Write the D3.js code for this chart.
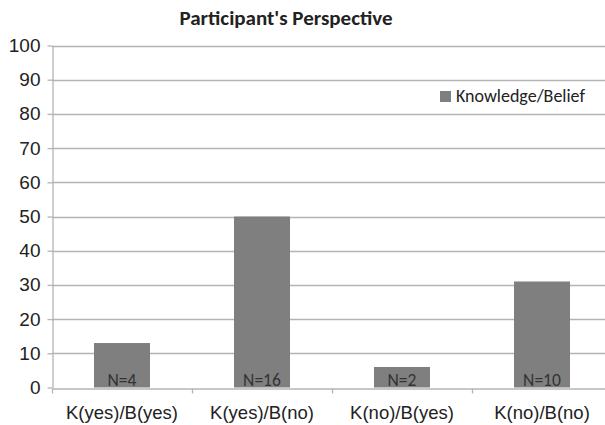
<!DOCTYPE html>
<html>
<head>
<meta charset="utf-8">
<script src="https://cdn.jsdelivr.net/npm/d3@7"></script>
<style>
  html, body { margin: 0; padding: 0; background: #fff; }
  svg { display: block; font-family: Carlito, Lato, "Open Sans", sans-serif; }
</style>
</head>
<body>
<svg id="chart" width="605" height="425"></svg>
<script>
// Share of participants (%) per knowledge/belief group
const categories = ["K(yes)/B(yes)", "K(yes)/B(no)", "K(no)/B(yes)", "K(no)/B(no)"];
const values = [13, 50, 6, 31];
const counts = ["N=4", "N=16", "N=2", "N=10"];
const yTicks = [0, 10, 20, 30, 40, 50, 60, 70, 80, 90, 100];
const seriesName = "Knowledge/Belief";
const title = "Participant's Perspective";

const svg = d3.select("#chart");
const margin = { left: 52, right: -7, top: 45.5, bottom: 37.5 };
const W = 605, H = 425;

const x = d3.scaleBand()
  .domain(categories)
  .range([margin.left, W - margin.right])
  .paddingInner(0.6)
  .paddingOuter(0.3);

const band = d3.scaleBand().domain(categories).range([margin.left, W - margin.right]);

const y = d3.scaleLinear().domain([0, 100]).range([H - margin.bottom, margin.top]);

const gridColor = "#b4b4b4";

// Horizontal gridlines
svg.append("g")
  .selectAll("line")
  .data(yTicks.filter(d => d > 0))
  .join("line")
  .attr("x1", margin.left)
  .attr("x2", W - margin.right)
  .attr("y1", d => Math.round(y(d)) + 0.5)
  .attr("y2", d => Math.round(y(d)) + 0.5)
  .attr("stroke", gridColor)
  .attr("stroke-width", 1.3);

// Y axis
const yAxis = svg.append("g")
  .attr("transform", `translate(${margin.left + 0.5},0)`)
  .call(d3.axisLeft(y).tickValues(yTicks).tickSize(5).tickPadding(7).tickSizeOuter(0));
yAxis.select(".domain").attr("stroke", gridColor).attr("stroke-width", 1.3);
yAxis.selectAll(".tick line").attr("stroke", gridColor).attr("stroke-width", 1.3);
yAxis.selectAll(".tick text")
  .attr("font-size", 19)
  .attr("fill", "#222")
  .attr("font-family", null);

// Bars
svg.append("g")
  .selectAll("rect")
  .data(values)
  .join("rect")
  .attr("x", (d, i) => x(categories[i]))
  .attr("width", x.bandwidth())
  .attr("y", d => y(d))
  .attr("height", d => y(0) - y(d))
  .attr("fill", "#7f7f7f");

// Count labels inside the bars
svg.append("g")
  .selectAll("text")
  .data(counts)
  .join("text")
  .attr("x", (d, i) => x(categories[i]) + x.bandwidth() / 2)
  .attr("y", y(0) - 2)
  .attr("text-anchor", "middle")
  .attr("font-size", 17.5)
  .attr("fill", "#333")
  .text(d => d);

// X axis
const xAxis = svg.append("g")
  .attr("transform", `translate(0,${Math.round(y(0)) + 0.5})`)
  .call(d3.axisBottom(band).tickSize(0).tickPadding(17).tickSizeOuter(0));
xAxis.select(".domain").attr("stroke", gridColor).attr("stroke-width", 1.3);
xAxis.selectAll(".tick text")
  .attr("font-size", 18.5)
  .attr("fill", "#222")
  .attr("font-family", null);
// Category boundary ticks
xAxis.selectAll(".sep")
  .data(categories)
  .join("line")
  .attr("class", "sep")
  .attr("x1", d => band(d) + 0.5)
  .attr("x2", d => band(d) + 0.5)
  .attr("y1", 0)
  .attr("y2", 5)
  .attr("stroke", gridColor)
  .attr("stroke-width", 1.3);

// Title
svg.append("text")
  .attr("x", 286)
  .attr("y", 25)
  .attr("text-anchor", "middle")
  .attr("font-size", 21)
  .attr("font-weight", "bold")
  .attr("fill", "#222")
  .text(title);

// Legend
const legend = svg.append("g").attr("transform", "translate(440,91)");
legend.append("rect").attr("width", 11).attr("height", 11).attr("fill", "#7f7f7f");
legend.append("text")
  .attr("x", 16)
  .attr("y", 11)
  .attr("font-size", 18)
  .attr("fill", "#222")
  .text(seriesName);
</script>
</body>
</html>
